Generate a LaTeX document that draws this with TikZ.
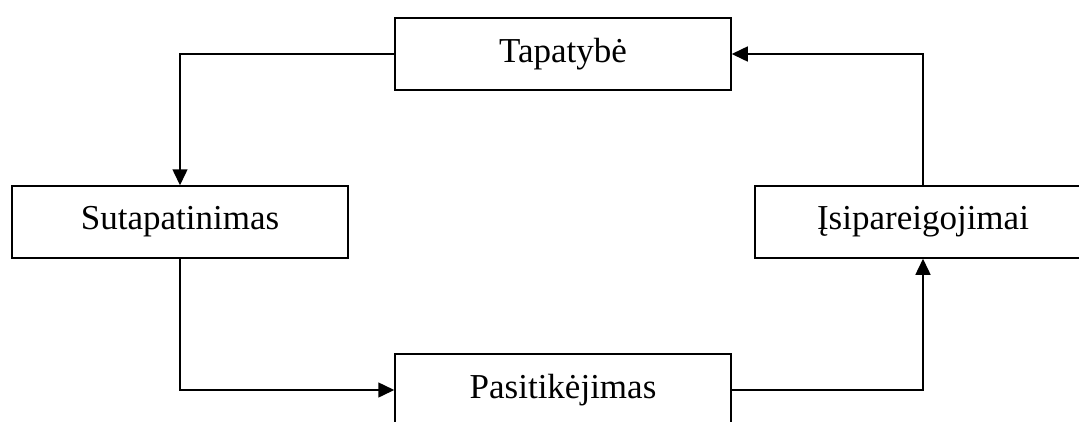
\documentclass[tikz,border=0pt]{standalone}
\usepackage{fontspec}
\setmainfont{Liberation Serif}
\usetikzlibrary{arrows.meta}
\begin{document}
\begin{tikzpicture}[x=1bp,y=-1bp,
  stagebox/.style={draw, line width=1.5bp, rectangle, minimum width=336bp,
    minimum height=72bp, inner sep=0pt, fill=white,
    font=\fontsize{35bp}{40bp}\selectfont},
  flow/.style={line width=1.5bp, -{Triangle[length=16bp,width=15bp]}}]
  \path[use as bounding box, clip] (0,0) rectangle (1079,421);
  \node[stagebox] (tap) at (563,54) {Tapatybė};
  \node[stagebox] (sut) at (180,222) {Sutapatinimas};
  \node[stagebox] (isi) at (923,222) {Įsipareigojimai};
  \node[stagebox] (pas) at (563,390) {Pasitikėjimas};
  \draw[flow] (tap.west) -| (sut.north);
  \draw[flow] (sut.south) |- (pas.west);
  \draw[flow] (pas.east) -| (isi.south);
  \draw[flow] (isi.north) |- (tap.east);
\end{tikzpicture}
\end{document}
